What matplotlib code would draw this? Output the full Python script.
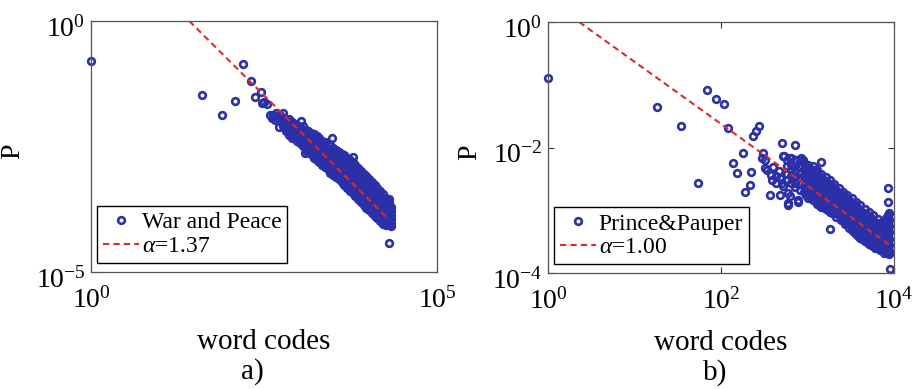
import numpy as np
import matplotlib
matplotlib.use('Agg')
import matplotlib.pyplot as plt
import matplotlib.transforms as mtransforms

plt.rcParams['font.family'] = ['Liberation Serif', 'DejaVu Serif']
plt.rcParams['mathtext.fontset'] = 'custom'
plt.rcParams['mathtext.rm'] = 'Liberation Serif'
plt.rcParams['mathtext.it'] = 'Liberation Serif:italic'

# values are log10(word code), log10(P)
wp_sparse = [(0.00, -0.80), (1.60, -1.47), (1.90, -1.87), (2.08, -1.59), (2.20, -0.86),
             (2.31, -1.19), (2.37, -1.52), (2.46, -1.41), (2.47, -1.64), (2.50, -1.61),
             (2.54, -1.65), (2.59, -1.87), (2.61, -1.94), (2.63, -1.87), (2.66, -1.97),
             (2.68, -1.84), (2.73, -1.87), (2.72, -1.95), (2.71, -2.12), (2.77, -1.84),
             (2.88, -2.04), (3.04, -1.99), (2.90, -2.27), (3.09, -2.62), (3.48, -2.34),
             (3.62, -2.77), (3.78, -2.70), (4.06, -3.22), (4.31, -3.55), (4.31, -4.43)]

wp_dense = {
    2.78: [-1.95, -2.03, -2.10],
    2.82: [-1.98, -2.06, -2.14, -2.20],
    2.86: [-1.96, -2.04, -2.12, -2.20, -2.27],
    2.90: [-2.02, -2.10, -2.18, -2.26, -2.33],
    2.94: [-2.06, -2.14, -2.22, -2.30],
    2.98: [-2.08, -2.16, -2.24, -2.32, -2.40],
    3.02: [-2.12, -2.20, -2.28, -2.36, -2.44],
    3.06: [-2.10, -2.18, -2.26, -2.34, -2.42, -2.50],
    3.10: [-2.18, -2.26, -2.34, -2.42, -2.50, -2.57],
    3.14: [-2.20, -2.28, -2.36, -2.44, -2.52, -2.60],
    3.18: [-2.24, -2.32, -2.40, -2.48, -2.56, -2.64],
    3.22: [-2.26, -2.34, -2.42, -2.50, -2.58, -2.66, -2.72],
    3.26: [-2.30, -2.38, -2.46, -2.54, -2.62, -2.70, -2.76],
    3.30: [-2.34, -2.42, -2.50, -2.58, -2.66, -2.74, -2.81],
    3.34: [-2.40, -2.48, -2.56, -2.64, -2.72, -2.80, -2.86],
    3.38: [-2.42, -2.50, -2.58, -2.66, -2.74, -2.82, -2.90],
    3.42: [-2.46, -2.54, -2.62, -2.70, -2.78, -2.86, -2.94],
    3.46: [-2.48, -2.56, -2.64, -2.72, -2.80, -2.88, -2.96, -3.02],
    3.50: [-2.52, -2.60, -2.68, -2.76, -2.84, -2.92, -3.00, -3.06],
    3.54: [-2.56, -2.64, -2.72, -2.80, -2.88, -2.96, -3.04, -3.10],
    3.58: [-2.60, -2.68, -2.76, -2.84, -2.92, -3.00, -3.08, -3.15],
    3.62: [-2.64, -2.72, -2.80, -2.88, -2.96, -3.04, -3.12, -3.20],
    3.66: [-2.66, -2.74, -2.82, -2.90, -2.98, -3.06, -3.14, -3.22, -3.26],
    3.70: [-2.72, -2.80, -2.88, -2.96, -3.04, -3.12, -3.20, -3.28, -3.32],
    3.74: [-2.76, -2.84, -2.92, -3.00, -3.08, -3.16, -3.24, -3.32, -3.38],
    3.78: [-2.80, -2.88, -2.96, -3.04, -3.12, -3.20, -3.28, -3.36, -3.43],
    3.82: [-2.86, -2.94, -3.02, -3.10, -3.18, -3.26, -3.34, -3.42, -3.48],
    3.86: [-2.92, -3.00, -3.08, -3.16, -3.24, -3.32, -3.40, -3.48, -3.54],
    3.90: [-2.98, -3.06, -3.14, -3.22, -3.30, -3.38, -3.46, -3.54, -3.60],
    3.94: [-3.04, -3.12, -3.20, -3.28, -3.36, -3.44, -3.52, -3.60, -3.66],
    3.98: [-3.08, -3.16, -3.24, -3.32, -3.40, -3.48, -3.56, -3.64, -3.72],
    4.02: [-3.14, -3.22, -3.30, -3.38, -3.46, -3.54, -3.62, -3.70, -3.77],
    4.06: [-3.20, -3.28, -3.36, -3.44, -3.52, -3.60, -3.68, -3.76, -3.82],
    4.10: [-3.26, -3.34, -3.42, -3.50, -3.58, -3.66, -3.74, -3.82, -3.88],
    4.14: [-3.32, -3.40, -3.48, -3.56, -3.64, -3.72, -3.80, -3.88, -3.93],
    4.18: [-3.38, -3.46, -3.54, -3.62, -3.70, -3.78, -3.86, -3.94, -3.98],
    4.22: [-3.44, -3.52, -3.60, -3.68, -3.76, -3.84, -3.92, -4.00, -4.04],
    4.26: [-3.52, -3.60, -3.68, -3.76, -3.84, -3.92, -4.00, -4.07],
    4.30: [-3.60, -3.68, -3.76, -3.84, -3.92, -4.00, -4.07],
    4.34: [-3.70, -3.78, -3.86, -3.94, -4.02, -4.08],
}

pp_sparse = [(0.00, -0.89), (1.26, -1.35), (1.54, -1.66), (1.73, -2.57), (1.84, -1.09),
             (1.94, -1.23), (2.03, -1.30), (2.08, -1.68), (2.14, -2.24), (2.19, -2.41),
             (2.25, -2.09), (2.28, -2.71), (2.33, -2.60), (2.35, -2.39), (2.37, -1.82),
             (2.40, -1.74), (2.44, -1.66), (2.49, -2.08), (2.47, -2.16), (2.51, -2.19),
             (2.53, -2.35), (2.51, -2.33), (2.57, -2.76), (2.59, -2.51), (2.58, -2.44),
             (2.60, -2.31), (2.63, -2.45), (2.64, -2.57), (2.67, -2.37), (2.68, -2.49),
             (2.68, -2.75), (2.70, -2.57), (2.71, -1.93), (2.72, -2.14), (2.72, -2.62),
             (2.73, -2.14), (2.78, -2.92), (2.78, -2.73), (2.78, -2.89), (2.80, -2.77),
             (2.80, -2.16), (2.82, -2.27), (2.86, -2.19), (2.86, -1.96), (2.89, -2.86),
             (2.89, -2.84), (2.93, -2.16), (2.95, -2.20), (3.10, -2.37), (3.16, -2.23),
             (3.26, -3.30), (3.93, -2.64), (3.93, -2.86), (3.93, -3.08), (3.95, -3.94)]

pp_dense = {
    2.76: [-2.20, -2.30, -2.42, -2.52],
    2.81: [-2.17, -2.27, -2.36, -2.46, -2.56],
    2.86: [-2.20, -2.29, -2.38, -2.47, -2.56, -2.63],
    2.91: [-2.22, -2.31, -2.40, -2.49, -2.58, -2.67],
    2.96: [-2.25, -2.34, -2.43, -2.52, -2.61, -2.70],
    3.01: [-2.27, -2.36, -2.45, -2.54, -2.63, -2.72, -2.80],
    3.06: [-2.30, -2.39, -2.48, -2.57, -2.66, -2.75, -2.83],
    3.11: [-2.36, -2.45, -2.54, -2.63, -2.72, -2.81, -2.90],
    3.16: [-2.42, -2.51, -2.60, -2.69, -2.78, -2.87, -2.95],
    3.21: [-2.47, -2.56, -2.65, -2.74, -2.83, -2.92, -2.98],
    3.26: [-2.52, -2.61, -2.70, -2.79, -2.88, -2.97, -3.02],
    3.31: [-2.58, -2.67, -2.76, -2.85, -2.94, -3.04],
    3.36: [-2.64, -2.73, -2.82, -2.91, -3.00, -3.08],
    3.41: [-2.70, -2.79, -2.88, -2.97, -3.06, -3.14],
    3.46: [-2.75, -2.84, -2.93, -3.02, -3.11, -3.20],
    3.51: [-2.80, -2.89, -2.98, -3.07, -3.16, -3.25, -3.32],
    3.56: [-2.86, -2.95, -3.04, -3.13, -3.22, -3.31, -3.38],
    3.61: [-2.92, -3.01, -3.10, -3.19, -3.28, -3.37, -3.44],
    3.66: [-2.98, -3.07, -3.16, -3.25, -3.34, -3.43, -3.49],
    3.71: [-3.03, -3.12, -3.21, -3.30, -3.39, -3.48, -3.53],
    3.76: [-3.08, -3.17, -3.26, -3.35, -3.44, -3.53, -3.57],
    3.81: [-3.14, -3.23, -3.32, -3.41, -3.50, -3.59],
    3.86: [-3.18, -3.27, -3.36, -3.45, -3.54, -3.63],
    3.91: [-3.12, -3.21, -3.30, -3.39, -3.48, -3.57, -3.66],
    3.94: [-3.05, -3.15, -3.25, -3.35, -3.45, -3.55, -3.65, -3.70],
    # points lying between the columns above
    2.985: [-2.31, -2.40, -2.49, -2.58, -2.67, -2.76],
    3.035: [-2.34, -2.43, -2.52, -2.61, -2.70, -2.79],
    3.085: [-2.40, -2.49, -2.58, -2.67, -2.76, -2.85],
    3.135: [-2.46, -2.55, -2.64, -2.73, -2.82, -2.91],
    3.185: [-2.51, -2.60, -2.69, -2.78, -2.87, -2.95],
    3.235: [-2.56, -2.65, -2.74, -2.83, -2.92, -3.00],
    3.285: [-2.62, -2.71, -2.80, -2.89, -2.98, -3.04],
    3.335: [-2.68, -2.77, -2.86, -2.95, -3.04, -3.10],
    3.385: [-2.74, -2.83, -2.92, -3.01, -3.10, -3.16],
    3.435: [-2.79, -2.88, -2.97, -3.06, -3.15, -3.22],
    3.485: [-2.84, -2.93, -3.02, -3.11, -3.20, -3.28],
    3.535: [-2.90, -2.99, -3.08, -3.17, -3.26, -3.35],
    3.585: [-2.96, -3.05, -3.14, -3.23, -3.32, -3.41],
    3.635: [-3.02, -3.11, -3.20, -3.29, -3.38, -3.46],
    3.685: [-3.07, -3.16, -3.25, -3.34, -3.43, -3.51],
    3.735: [-3.12, -3.21, -3.30, -3.39, -3.48, -3.55],
    3.785: [-3.18, -3.27, -3.36, -3.45, -3.54, -3.60],
    3.835: [-3.22, -3.31, -3.40, -3.49, -3.58, -3.64],
    3.885: [-3.17, -3.26, -3.35, -3.44, -3.53, -3.62, -3.68],
    3.925: [-3.10, -3.20, -3.30, -3.40, -3.50, -3.60, -3.68],
}

# fitted power-law lines, end points
wp_fit_x = [26.3, 20000]
wp_fit_p = [1.0, 1.12e-4]
pp_fit_x = [2.3, 8900]
pp_fit_p = [1.0, 2.8e-4]

blue = '#2C30A8'
red = '#DA2A2C'


def unpack(sparse, dense):
    lx = [a for a, b in sparse] + [k for k, ys in dense.items() for _ in ys]
    ly = [b for a, b in sparse] + [y for k, ys in dense.items() for y in ys]
    return 10 ** np.array(lx), 10 ** np.array(ly)


def panel(ax, sparse, dense, fx, fp, name, alpha_txt, xlim, ylim, xt, yt, tag, tagx):
    x, p = unpack(sparse, dense)
    ax.loglog(x, p, 'o', mfc='none', mec=blue, ms=4.8, mew=1.9, clip_on=False, label=name)
    ax.loglog(fx, fp, color=red, lw=1.5, dashes=(3.0, 2.0), label=alpha_txt)
    ax.set_xlim(xlim)
    ax.set_ylim(ylim)
    ax.set_xticks(xt)
    ax.set_xticklabels([r'$10^{%d}$' % round(np.log10(v)) for v in xt])
    ax.set_yticks(yt)
    ax.set_yticklabels([r'$10^{%d}$' % round(np.log10(v)) for v in yt])
    ax.minorticks_off()
    ax.tick_params(direction='in', top=True, right=True, length=4, width=0.8,
                   labelsize=20, color='#333333')
    ax.tick_params(axis='x', pad=11)
    ax.tick_params(axis='y', pad=4)
    # push y labels down a little, like the original
    shift = mtransforms.ScaledTranslation(0, -5 / 100, ax.figure.dpi_scale_trans)
    for lbl in ax.get_yticklabels():
        lbl.set_transform(lbl.get_transform() + shift)
    for s in ax.spines.values():
        s.set_color('#555555')
        s.set_linewidth(0.9)
    ax.legend(loc='lower left', bbox_to_anchor=(0.017, 0.035), fontsize=17,
              fancybox=False, edgecolor='black', framealpha=1, borderpad=0.25,
              handlelength=1.55, handletextpad=0.1, labelspacing=0.1, borderaxespad=0)
    ax.text(0.5, -0.28, 'word codes', transform=ax.transAxes, ha='center', va='center',
            fontsize=21)
    ax.text(tagx, -0.395, tag, transform=ax.transAxes, ha='center', va='center', fontsize=21)
    ax.text(-0.225, 0.48, 'P', transform=ax.transAxes, ha='center', va='center',
            rotation=90, fontsize=20)


fig = plt.figure(figsize=(9.21, 3.89), dpi=100)
ax1 = fig.add_axes([0.0988, 0.3008, 0.3757, 0.6452])
ax2 = fig.add_axes([0.595, 0.298, 0.3757, 0.6452])

panel(ax1, wp_sparse, wp_dense, wp_fit_x, wp_fit_p, 'War and Peace', r'$\alpha$=1.37',
      (1, 1e5), (1e-5, 1), [1, 1e5], [1e-5, 1], 'a)', 0.465)
panel(ax2, pp_sparse, pp_dense, pp_fit_x, pp_fit_p, 'Prince&Pauper', r'$\alpha$=1.00',
      (1, 1e4), (1e-4, 1), [1, 1e2, 1e4], [1e-4, 1e-2, 1], 'b)', 0.483)

fig.savefig('out.png', dpi=100)
